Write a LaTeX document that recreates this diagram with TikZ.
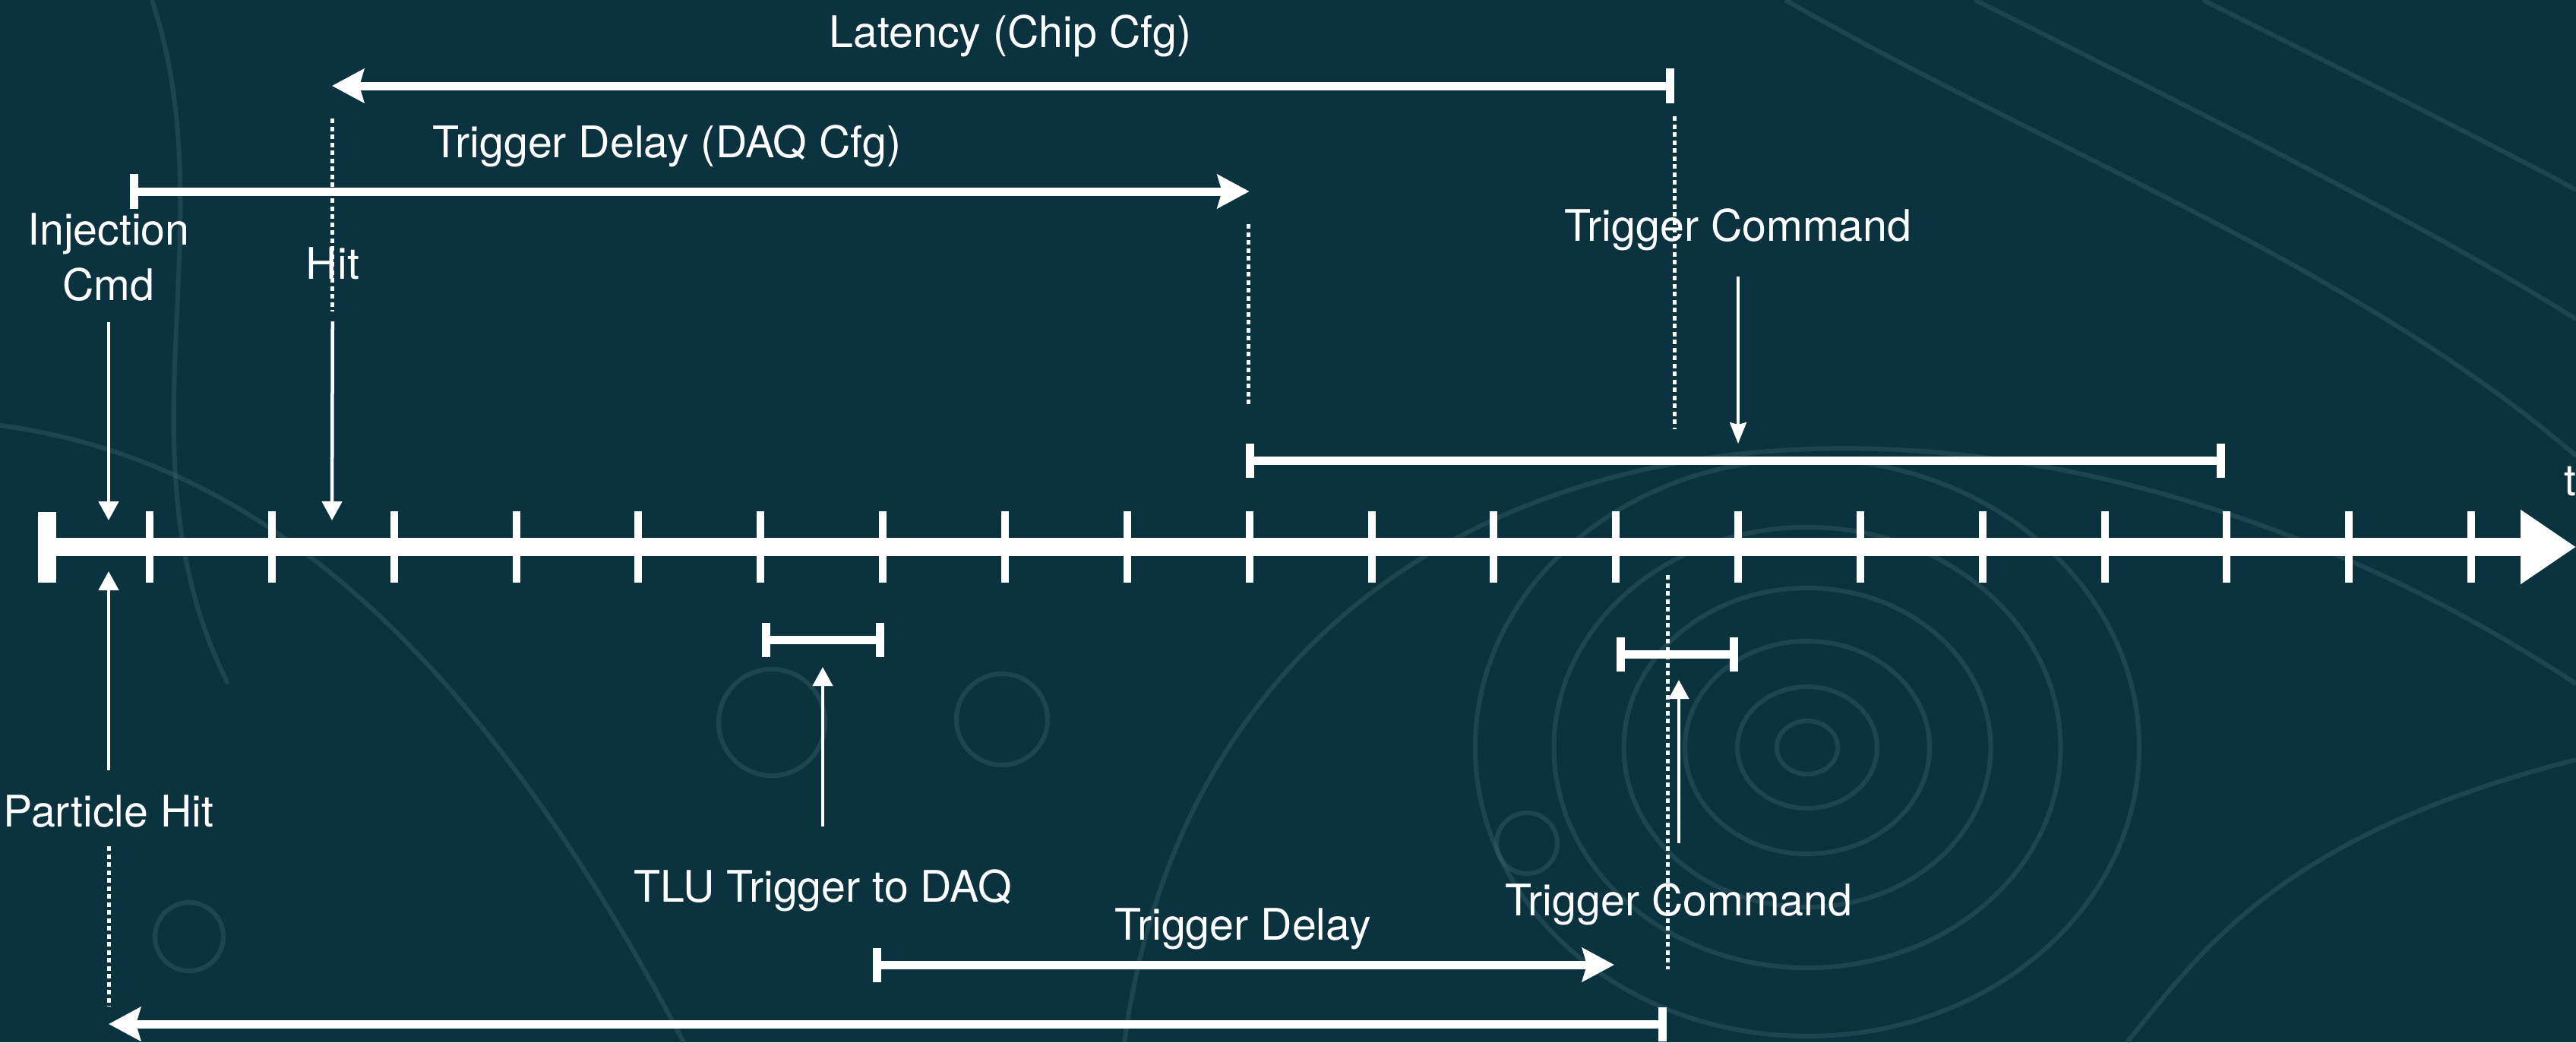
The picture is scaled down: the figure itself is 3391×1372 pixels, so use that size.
\documentclass[tikz,border=0pt]{standalone}
\usepackage{fontspec}
\setmainfont{TeX Gyre Heros}
\usetikzlibrary{arrows.meta}

\definecolor{bgteal}{RGB}{11,51,63}
\definecolor{trackteal}{RGB}{60,104,114}

\tikzset{
  bartip/.tip={Bar[width=0.45cm]},
  bigtip/.tip={Stealth[length=0.42cm, width=0.44cm, inset=0.06cm]}
}

\begin{document}
\begin{tikzpicture}[
  x=0.01cm, y=-0.01cm,
  lbl/.style={text=white, font=\fontsize{16.3}{20.5}\selectfont, inner sep=0pt,
              anchor=base, align=center},
  span/.style={draw=white, line width=0.11cm},
  ptr/.style={draw=white, line width=0.045cm, -{Triangle[length=0.25cm, width=0.26cm]}},
  thinptr/.style={draw=white, line width=0.035cm, -{Stealth[length=0.28cm, width=0.22cm, inset=0.03cm]}},
  guide/.style={draw=white, line width=0.05cm, dash pattern=on 0.06cm off 0.045cm},
  track/.style={draw=trackteal, line width=0.06cm, opacity=0.35}
]
\useasboundingbox (0,0) rectangle (3391,1372);
\fill[bgteal] (0,0) rectangle (3391,1372);

% faint tracks in the background
\begin{scope}[track]
  \foreach \r in {35,80,140,210,290,380}
    \draw (2379,984) ellipse ({\r*1.15} and \r);
  \draw (1319,947) circle (60);
  \draw (1016,951) circle (70);
  \draw (249,1233) circle (45);
  \draw (2010,1110) circle (40);
  \draw (1480,1372) .. controls (1600,500) and (2600,380) .. (3391,900);
  \draw (2350,0) .. controls (2700,200) and (3100,350) .. (3391,600);
  \draw (2600,0) .. controls (2900,150) and (3200,300) .. (3391,420);
  \draw (2900,0) .. controls (3100,100) and (3300,200) .. (3391,250);
  \draw (200,0) .. controls (300,300) and (150,600) .. (300,900);
  \draw (0,560) .. controls (300,600) and (600,800) .. (900,1372);
  \draw (3391,1000) .. controls (3000,1100) and (2900,1250) .. (2800,1372);
\end{scope}

% time axis
\coordinate (t0l) at (62,720);
\coordinate (tend) at (3391,720);
\draw[white, line width=0.24cm, -{Triangle[length=0.73cm, width=0.93cm]}] (t0l) -- (tend);
\fill[white] (50,674) rectangle (74,767);
\foreach \k in {0,...,19} {
  \coordinate (t\k) at ({197+160.85*\k},720);
  \fill[white] ([xshift=-0.05cm, yshift=0.465cm]t\k) rectangle ([xshift=0.05cm, yshift=-0.465cm]t\k);
}
\node[lbl, anchor=base west] (tax) at (3375,652) {t};

% labels
\node[lbl] (lat) at (1330,62) {Latency (Chip Cfg)};
\node[lbl] (tdc) at (878,207) {Trigger Delay (DAQ Cfg)};
\node[lbl] (inj) at (143,395) {Injection\\Cmd};
\node[lbl] (hit) at (438,367) {Hit};
\node[lbl] (tcu) at (2288,317) {Trigger Command};
\node[lbl] (phit) at (143,1088) {Particle Hit};
\node[lbl] (tlu) at (1083,1187) {TLU Trigger to DAQ};
\node[lbl] (tcl) at (2210,1205) {Trigger Command};
\node[lbl] (tdl) at (1636,1237) {Trigger Delay};

% above the axis
\coordinate (latR) at (2204,113);
\coordinate (latL) at (437,113);
\draw[span, bartip-bigtip] (latR) -- (latL);
\draw[guide] (2204,153) -- (2204,565);
\coordinate (tdcL) at (171,252);
\draw[span, bartip-bigtip] (tdcL) -- (t9 |- 0,252);
\draw[guide] (1643,295) -- (1643,535);
\draw[guide] (437,156) -- (437,410);
\coordinate (injTip) at (143,685);
\coordinate (hitTip) at (437,685);
\draw[ptr, shorten <=0.27cm] (inj) -- (injTip);
\draw[ptr, shorten <=0.55cm] (hit) -- (hitTip);
\coordinate (tcuTip) at (2288,584);
\draw[thinptr, shorten <=0.34cm] (tcu) -- (tcuTip);
\draw[span, bartip-bartip] (1640,606) -- (2929,606);

% below the axis
\draw[span, bartip-bartip] (1003,842) -- (1164,842);
\draw[span, bartip-bartip] (2128,861) -- (2288,861);
\coordinate (tluTip) at (1083,878);
\draw[ptr, shorten <=0.55cm] (tlu) -- (tluTip);
\coordinate (tclTip) at (2210,895);
\draw[ptr, shorten <=0.51cm] (tcl) -- (tclTip);
\draw[guide] (2195,757) -- (2195,1276);
\coordinate (phitTip) at (143,752);
\draw[ptr, shorten <=0.32cm] (phit) -- (phitTip);
\draw[guide] (143,1114) -- (143,1325);
\draw[span, bartip-bigtip] (1149,1270) -- (2125,1270);
\coordinate (bigR) at (2194,1348);
\coordinate (bigL) at (143,1348);
\draw[span, bartip-bigtip] (bigR) -- (bigL);
\end{tikzpicture}
\end{document}
